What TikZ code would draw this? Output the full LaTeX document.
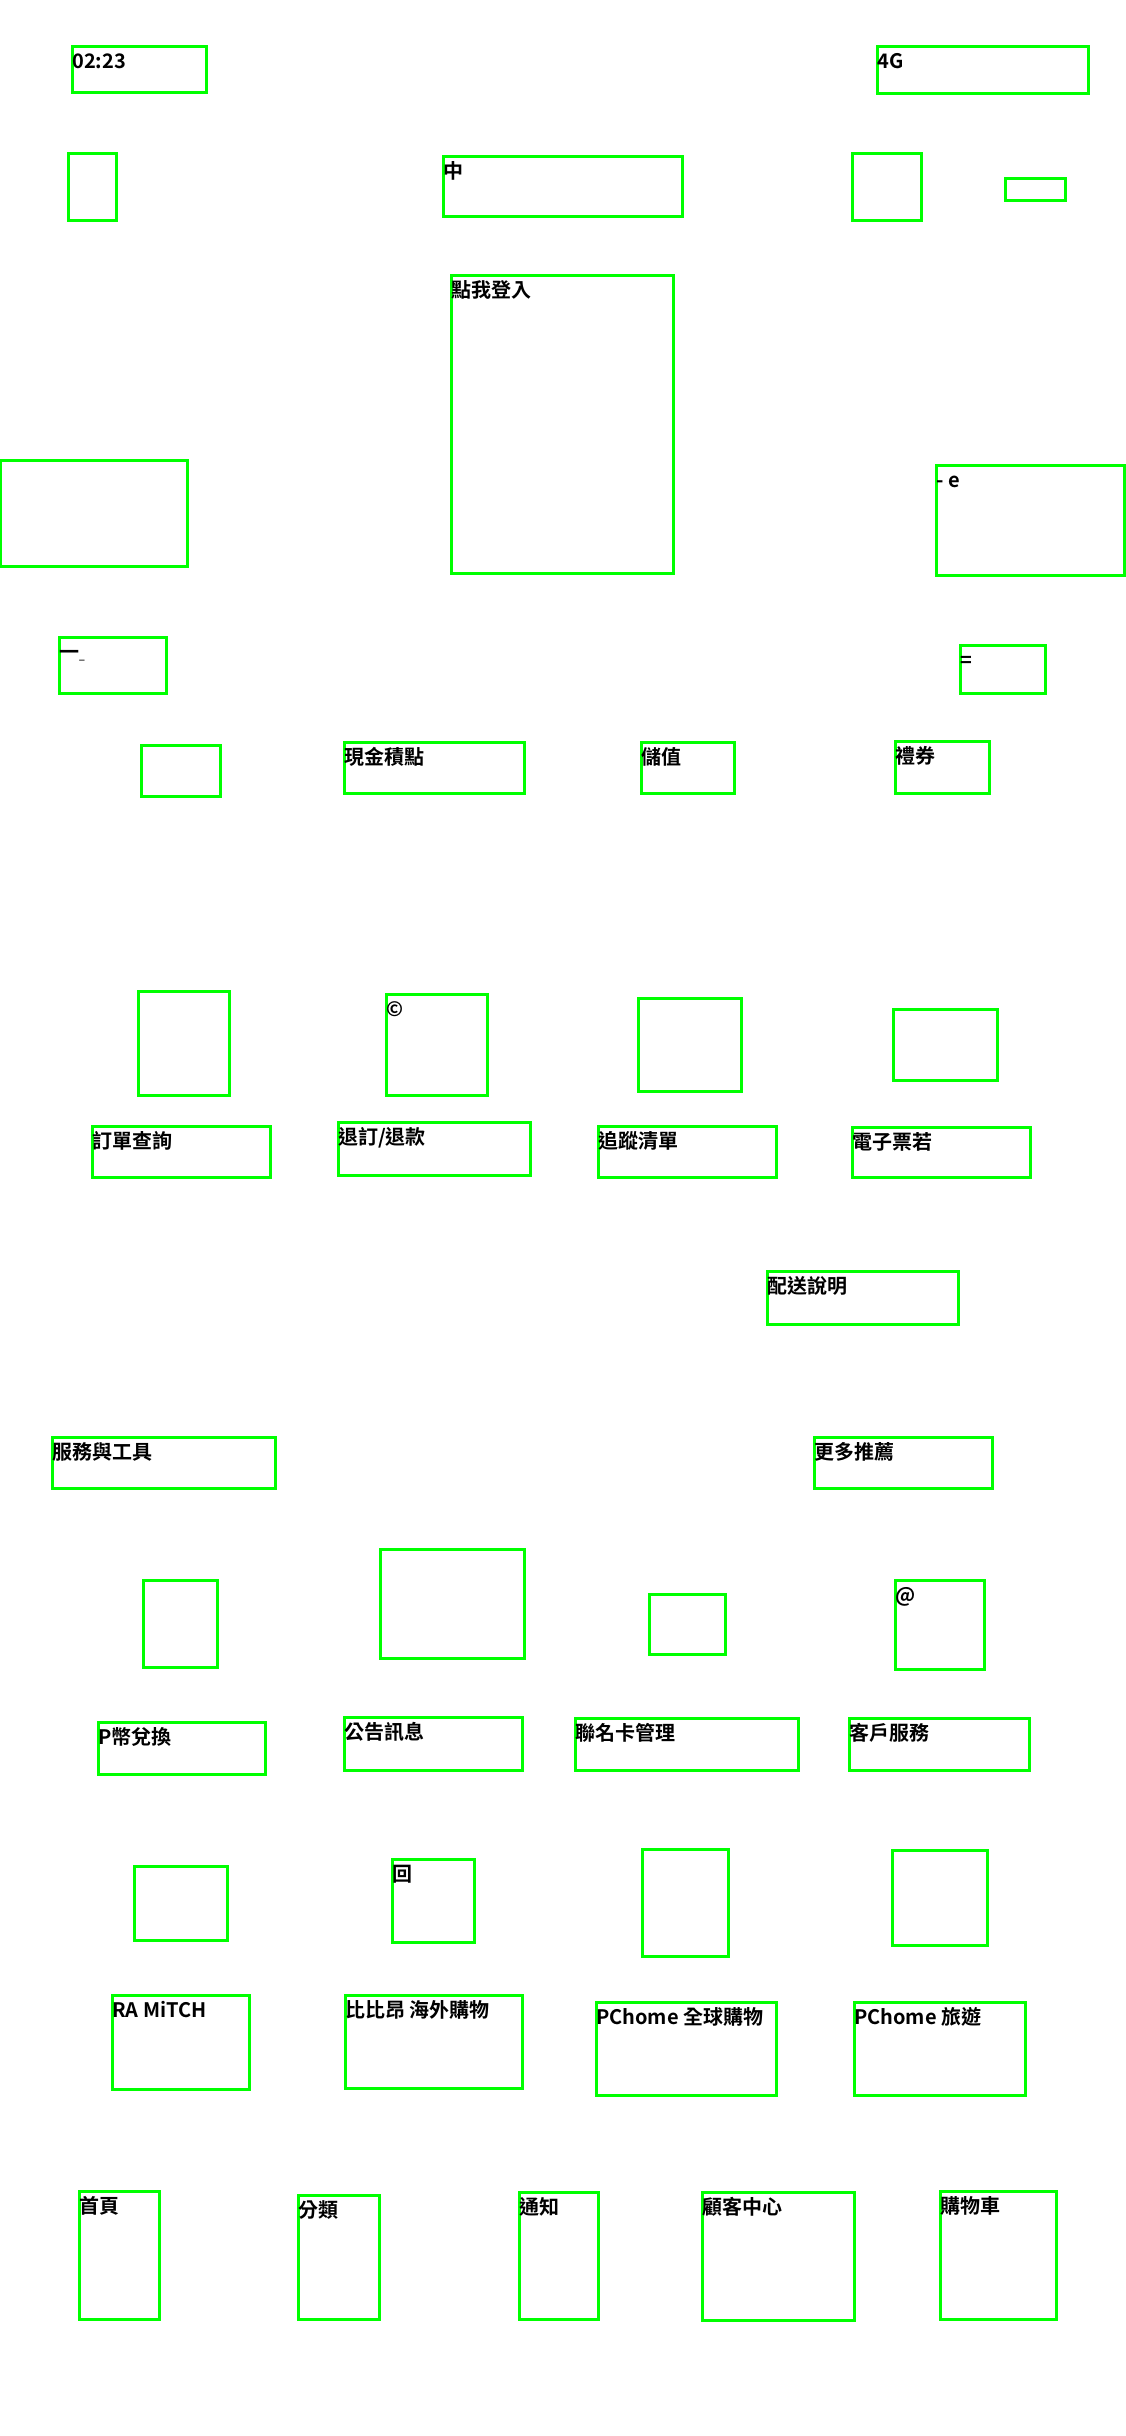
\documentclass[tikz,border=0pt]{standalone}
\usepackage{fontspec}
\setmainfont{Noto Sans CJK TC Bold}
\usepackage{tikz}

\tikzset{
  box/.style={color={rgb, 255:red, 0; green, 255; blue, 0}, draw opacity=1, line width=3},
  lbl/.style={anchor=base west, inner sep=0, font=\fontsize{20}{20}\selectfont, text={rgb, 255:red, 0; green, 0; blue, 0}}
}

\begin{document}
\begin{tikzpicture}[x=1pt,y=1pt,yscale=-1]
    \useasboundingbox [fill=white] (0,0) rectangle (1125,2436);
    %Status bar
    \draw [box] (72,46) rectangle (206,92);
    \node [lbl] (time) at (72,68) {02:23};
    \draw [box] (877,46) rectangle (1088,93);
    \node [lbl] (net) at (877,68) {4G};
    %Header
    \draw [box] (68,153) rectangle (116,220);
    \draw [box] (443,156) rectangle (682,216);
    \node [lbl] (title) at (443,178) {中};
    \draw [box] (852,153) rectangle (921,220);
    \draw [box] (1005,178) rectangle (1065,200);
    %Member area
    \draw [box] (451,275) rectangle (673,573);
    \node [lbl] (login) at (451,297) {點我登入};
    \draw [box] (0,460) rectangle (187,566);
    \draw [box] (936,465) rectangle (1124,575);
    \node [lbl] (ecard) at (936,487) {- e};
    \draw [box] (59,637) rectangle (166,693);
    \node [lbl] (dash) at (59,659) {一{\fontsize{10}{10}\selectfont\_}};
    \draw [box] (960,645) rectangle (1045,693);
    \node [lbl] (menu) at (960,667) {=};
    %Wallet row
    \draw [box] (141,745) rectangle (220,796);
    \draw [box] (344,742) rectangle (524,793);
    \node [lbl] (cash) at (344,764) {現金積點};
    \draw [box] (641,742) rectangle (734,793);
    \node [lbl] (topup) at (641,764) {儲值};
    \draw [box] (895,741) rectangle (989,793);
    \node [lbl] (gift) at (895,763) {禮券};
    %Order icons
    \draw [box] (138,991) rectangle (229,1095);
    \draw [box] (386,994) rectangle (487,1095);
    \node [lbl] (copy) at (386,1016) {©};
    \draw [box] (638,998) rectangle (741,1091);
    \draw [box] (893,1009) rectangle (997,1080);
    %Order labels
    \draw [box] (92,1126) rectangle (270,1177);
    \node [lbl] (orders) at (92,1148) {訂單查詢};
    \draw [box] (338,1122) rectangle (530,1175);
    \node [lbl] (refund) at (338,1144) {退訂/退款};
    \draw [box] (598,1126) rectangle (776,1177);
    \node [lbl] (track) at (598,1148) {追蹤清單};
    \draw [box] (852,1127) rectangle (1030,1177);
    \node [lbl] (ticket) at (852,1149) {電子票若};
    \draw [box] (767,1271) rectangle (958,1324);
    \node [lbl] (ship) at (767,1293) {配送說明};
    %Section titles
    \draw [box] (52,1437) rectangle (275,1488);
    \node [lbl] (tools) at (52,1459) {服務與工具};
    \draw [box] (814,1437) rectangle (992,1488);
    \node [lbl] (more) at (814,1459) {更多推薦};
    %Tool icons
    \draw [box] (143,1580) rectangle (217,1667);
    \draw [box] (380,1549) rectangle (524,1658);
    \draw [box] (649,1594) rectangle (725,1654);
    \draw [box] (895,1580) rectangle (984,1669);
    \node [lbl] (at) at (895,1602) {@};
    %Tool labels
    \draw [box] (98,1722) rectangle (265,1774);
    \node [lbl] (coin) at (98,1744) {P幣兌換};
    \draw [box] (344,1717) rectangle (522,1770);
    \node [lbl] (news) at (344,1739) {公告訊息};
    \draw [box] (575,1718) rectangle (798,1770);
    \node [lbl] (cobrand) at (575,1740) {聯名卡管理};
    \draw [box] (849,1718) rectangle (1029,1770);
    \node [lbl] (service) at (849,1740) {客戶服務};
    %More icons
    \draw [box] (134,1866) rectangle (227,1940);
    \draw [box] (392,1859) rectangle (474,1942);
    \node [lbl] (back) at (392,1881) {回};
    \draw [box] (642,1849) rectangle (728,1956);
    \draw [box] (892,1850) rectangle (987,1945);
    %More labels
    \draw [box] (112,1995) rectangle (249,2089);
    \node [lbl] (mitch) at (112,2017) {RA MiTCH};
    \draw [box] (345,1995) rectangle (522,2088);
    \node [lbl] (bibian) at (345,2017) {比比昂 海外購物};
    \draw [box] (596,2002) rectangle (776,2095);
    \node [lbl] (global) at (596,2024) {PChome 全球購物};
    \draw [box] (854,2002) rectangle (1025,2095);
    \node [lbl] (travel) at (854,2024) {PChome 旅遊};
    %Tab bar
    \draw [box] (79,2191) rectangle (159,2319);
    \node [lbl] (home) at (79,2213) {首頁};
    \draw [box] (298,2195) rectangle (379,2319);
    \node [lbl] (cat) at (298,2217) {分類};
    \draw [box] (519,2192) rectangle (598,2319);
    \node [lbl] (notify) at (519,2214) {通知};
    \draw [box] (702,2192) rectangle (854,2320);
    \node [lbl] (care) at (702,2214) {顧客中心};
    \draw [box] (940,2191) rectangle (1056,2319);
    \node [lbl] (cart) at (940,2213) {購物車};
\end{tikzpicture}
\end{document}
